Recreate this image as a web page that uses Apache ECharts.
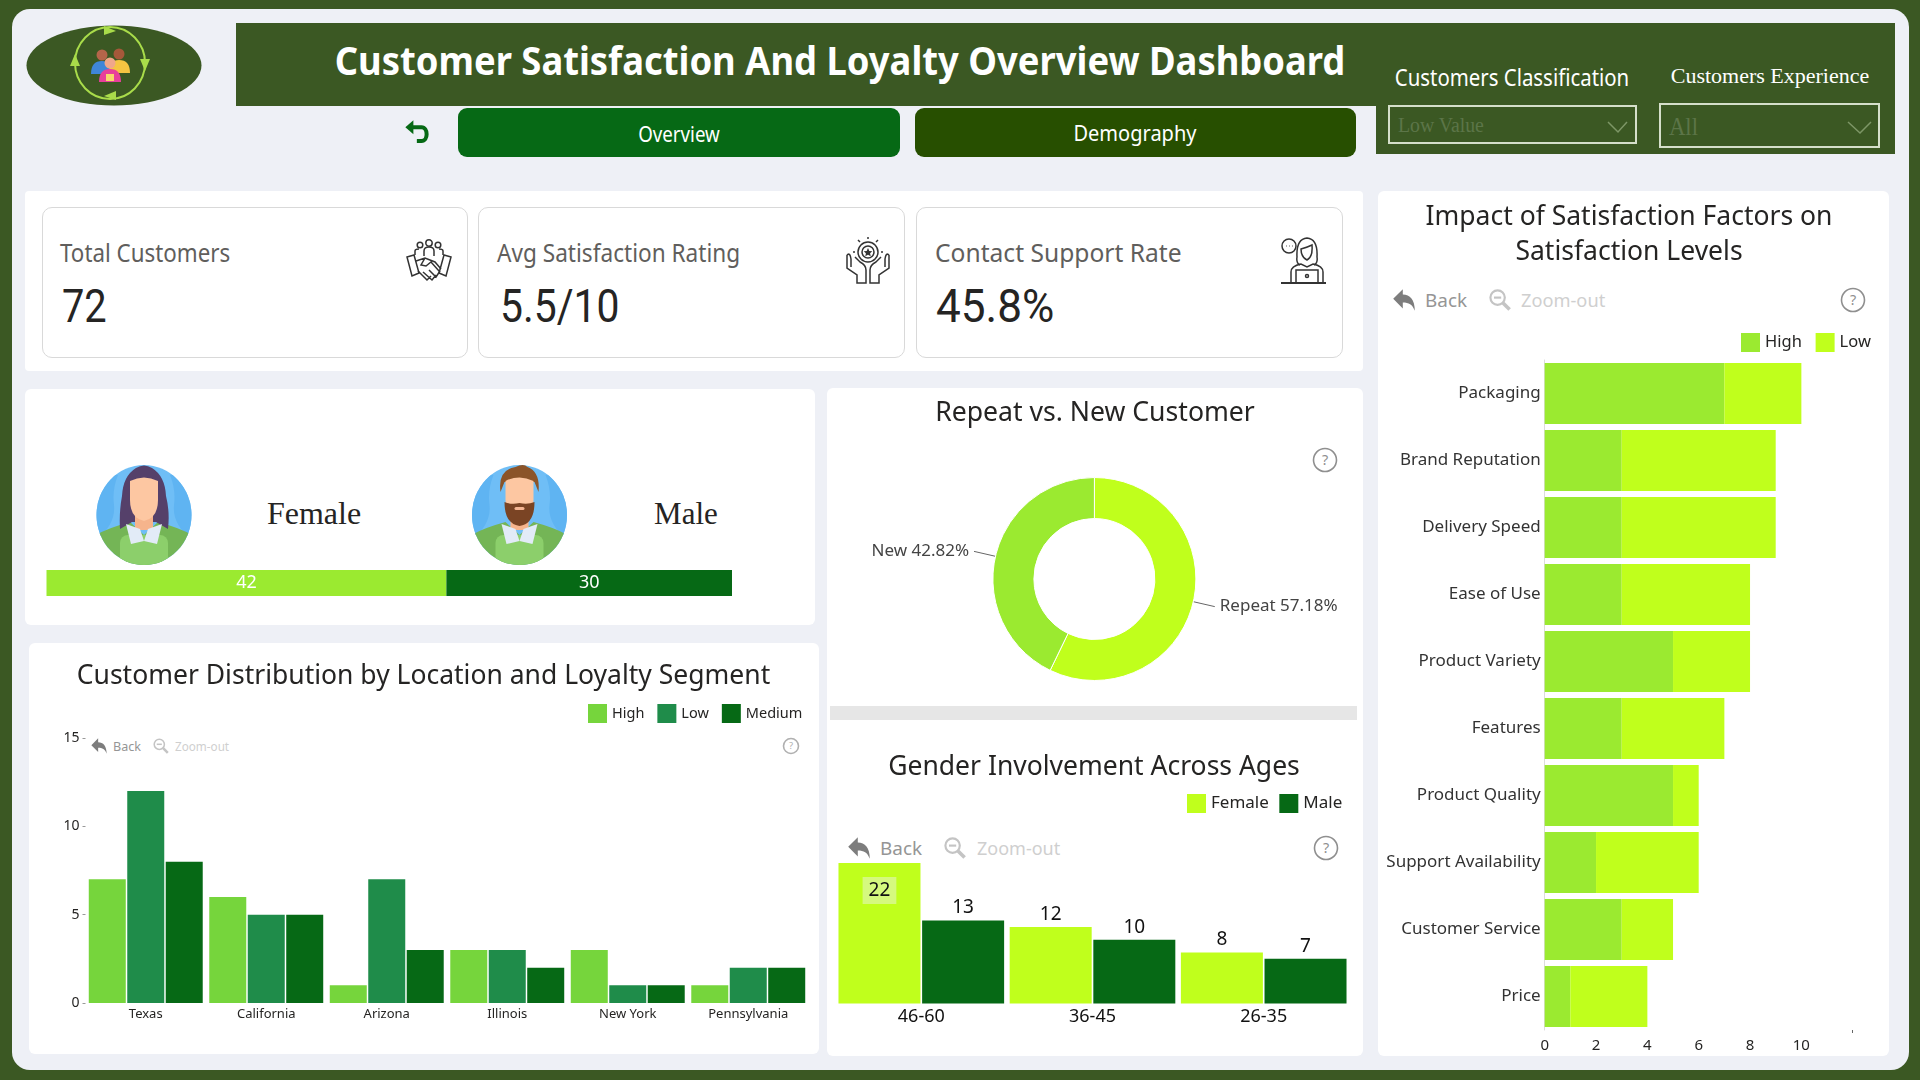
<!DOCTYPE html>
<html><head><meta charset="utf-8">
<script src="https://cdn.jsdelivr.net/npm/echarts@6/dist/echarts.min.js"></script>
<style>
html,body{margin:0;padding:0;width:1920px;height:1080px;overflow:hidden;background:#3b5823}
#chrome,#chart{position:absolute;left:0;top:0;width:1920px;height:1080px}
.b{position:absolute;box-sizing:border-box}
.t{position:absolute;white-space:nowrap;line-height:1}
svg{position:absolute;left:0;top:0;overflow:visible}
</style></head><body>
<div id="chrome"></div><div id="chart"></div>
<script>
// ---- data ----
const locations = ['Texas','California','Arizona','Illinois','New York','Pennsylvania'];
const locHigh = [7,6,1,3,3,1];
const locLow = [12,5,7,3,1,2];
const locMedium = [8,5,3,2,1,2];
const ageGroups = ['46-60','36-45','26-35'];
const ageFemale = [22,12,8];
const ageMale = [13,10,7];
const factors = ['Packaging','Brand Reputation','Delivery Speed','Ease of Use','Product Variety','Features','Product Quality','Support Availability','Customer Service','Price'];
const factorHigh = [7,3,3,3,5,3,5,2,3,1];
const factorLow = [3,6,6,5,3,4,1,4,2,3];
const loyaltyNames = ['Repeat','New'];
const loyaltyShare = [57.18,42.82];
const genderNames = ['Female','Male'];
const genderCounts = [42,30];
const kpiLabels = ['Total Customers','Avg Satisfaction Rating','Contact Support Rate'];
const kpiValues = ['72','5.5/10','45.8%'];

// ---- colours ----
const LIME='#9bea30', YEL='#c0ff1c', DK='#066915', MID='#1f8c4a', LG='#76d53c', BANNER='#3b5823', INK='#252423';
const SANS='"Noto Sans","Open Sans",sans-serif', SERIF='"Liberation Serif",serif';

// ---- page chrome ----
const root=document.getElementById('chrome');
function B(x,y,w,h,bg,extra){const d=document.createElement('div');d.className='b';
  d.style.cssText+=`left:${x}px;top:${y}px;width:${w}px;height:${h}px;background:${bg};`+(extra||'');root.appendChild(d);return d;}
function T(s,x,cy,size,color,o){o=o||{};const d=document.createElement('div');d.className='t';d.textContent=s;
  d.style.cssText+=`left:${x}px;top:${cy}px;font-size:${size}px;color:${color};font-family:${o.font||SANS};font-weight:${o.weight||400};`;
  root.appendChild(d);
  const sx=o.w?o.w/d.offsetWidth:1, c=o.align==='c';
  d.style.transformOrigin=c?'center center':'left center';
  d.style.transform=`translate(${c?'-50%':'0'},-50%) scaleX(${sx})`;return d;}
function S(html){const w=document.createElement('div');w.innerHTML=`<svg width="1920" height="1080" xmlns="http://www.w3.org/2000/svg">${html}</svg>`;root.appendChild(w.firstChild);}

B(12,9,1897,1061,'#eef0f6','border-radius:18px;');
B(236,23,1659,83,BANNER);B(1376,106,519,48,BANNER);
B(25,191,1338,180,'#fff','border-radius:4px;');
B(25,389,790,236,'#fff','border-radius:6px;');
B(29,643,790,411,'#fff','border-radius:6px;');
B(827,388,536,668,'#fff','border-radius:6px;');
B(830,706,527,14,'#e6e6e6');
B(1378,191,511,865,'#fff','border-radius:6px;');
B(458,108,442,49,DK,'border-radius:9px;');
B(915,108,441,49,'#274f00','border-radius:9px;');
B(42,207,426,151,'#fff','border:1.5px solid #d9d9d9;border-radius:10px;');
B(478,207,427,151,'#fff','border:1.5px solid #d9d9d9;border-radius:10px;');
B(916,207,427,151,'#fff','border:1.5px solid #d9d9d9;border-radius:10px;');
B(1388,105,249,39,'transparent','border:2px solid #d5dfca;');
B(1659,103,221,45,'transparent','border:2px solid #d5dfca;');

T('Customer Satisfaction And Loyalty Overview Dashboard',839.5,59,39,'#fff',{weight:700,align:'c',w:1011});
T('Overview',679,134,21,'#fff',{align:'c',w:82});
T('Demography',1135,133,21,'#fff',{align:'c',w:123});
T('Customers Classification',1512,77,23,'#fff',{align:'c',w:234});
T('Customers Experience',1770,76,22,'#fff',{align:'c',w:199,font:SERIF});
T('Low Value',1398,125,20,'#5c7548',{font:SERIF,w:86});
T('All',1669,126,25,'#5c7548',{font:SERIF,w:29});
T(kpiLabels[0],60,253,25.5,'#605e5c',{w:170});
T(kpiLabels[1],497,253,25.5,'#605e5c',{w:243});
T(kpiLabels[2],935,253,25.5,'#605e5c',{w:247});
T(kpiValues[0],62,306,46,INK,{font:'Roboto',w:45});
T(kpiValues[1],500,306,46,INK,{font:'Roboto',w:120});
T(kpiValues[2],936,306,46,INK,{font:'Roboto',w:118});
T(genderNames[0],314,513,32,'#252423',{font:SERIF,align:'c',w:94});
T(genderNames[1],686,513,32,'#252423',{font:SERIF,align:'c',w:64});

// toolbar helper: arrow, Back, magnifier, Zoom-out, help
function arrow(x,y,k,c){return `<path transform="translate(${x},${y}) scale(${k})" fill="${c}" d="M-9 -1 L-1 -9 V-4.5 C5 -4.5 9 0 9 9 C7 3.5 4 2 -1 2 V7 Z"/>`;}
function mag(x,y,k,c){return `<g transform="translate(${x},${y}) scale(${k})" fill="none" stroke="${c}" stroke-width="1.8"><circle cx="-2" cy="-2" r="6"/><path d="M-5 -2H1"/><path d="M2.5 2.5L8 8" stroke-width="3"/></g>`;}
function help(x,y,r,c){return `<circle cx="${x}" cy="${y}" r="${r}" fill="none" stroke="${c}" stroke-width="1.6"/><text x="${x}" y="${y+r*0.42}" font-size="${r*1.25}" text-anchor="middle" fill="${c}" font-family="Noto Sans">?</text>`;}
function toolbar(y,k,xs,fs,wb,wz){S(arrow(xs[0],y,k,'#7d7d7d')+mag(xs[2],y,k,'#c4c4c4'));
  T('Back',xs[1],y,fs,'#959595',{w:wb});T('Zoom-out',xs[3],y,fs,'#cfcfcf',{w:wz});}
toolbar(746,.85,[99,113,161,175],13,28,54);
toolbar(848,1.2,[859,880,955,977],18,42,83);
toolbar(300,1.2,[1404,1425,1500,1521],18,42,84);
S(help(791,746,7.5,'#b0b0b0')+help(1325,460,11.5,'#8f8f8f')+help(1326,848,11.5,'#8f8f8f')+help(1853,300,11.5,'#8f8f8f'));

// back arrow, chevrons
S(`<g transform="translate(418,133) scale(1.15)"><path fill="none" stroke="${DK}" stroke-width="3.5" d="M-6 -5 H3 C9 -5 9 7 3 7 H-1"/><path fill="${DK}" d="M-11 -5 L-4 -11 V1 Z"/></g>
<path d="M1608 122 L1618 132 L1627 122" fill="none" stroke="#7d9666" stroke-width="1.5"/>
<path d="M1848 122 L1860 133 L1871 122" fill="none" stroke="#7d9666" stroke-width="1.5"/>`);

// logo
S(`<ellipse cx="114" cy="65.5" rx="87.5" ry="40" fill="${BANNER}"/>
<ellipse cx="110" cy="63" rx="35" ry="36" fill="none" stroke="#a9dc4a" stroke-width="2"/>
<g fill="#a9dc4a"><path d="M104 26 L116 31 L104 35Z"/><path d="M116 100 L104 96 L116 91Z"/><path d="M140 60 L145 72 L150 60Z" transform="translate(0,-1)"/><path d="M70 66 L75 54 L80 66Z"/></g>
<circle cx="102" cy="55" r="5.5" fill="#b5654a"/><circle cx="119" cy="54" r="5.5" fill="#a5583a"/>
<path d="M91 74 Q91 61 102 61 Q112 61 112 74Z" fill="#3f86d8"/><path d="M109 73 Q109 60 119 60 Q130 60 130 73Z" fill="#f5c542"/>
<circle cx="110" cy="63" r="5.5" fill="#f0a78a"/><path d="M99 82 Q99 69 110 69 Q121 69 121 82Z" fill="#e83f9b"/><rect x="106" y="74" width="8" height="7" fill="#f7d76b"/>`);

// avatars
function avatar(cx,male){const clip='av'+cx;return `<defs><clipPath id="${clip}"><ellipse cx="${cx}" cy="515" rx="47.5" ry="50"/></clipPath></defs>
<g clip-path="url(#${clip})"><rect x="${cx-50}" y="460" width="100" height="110" fill="#6fbef6"/>
<path d="M${cx-48} 540 Q${cx-28} 524 ${cx-30} 505 Q${cx-32} 490 ${cx-26} 475 L${cx-48} 470Z" fill="#5fb4f2"/><path d="M${cx+48} 540 Q${cx+28} 524 ${cx+30} 505 Q${cx+32} 490 ${cx+26} 475 L${cx+48} 470Z" fill="#5fb4f2"/>
<path d="M${cx-48} 570 V535 Q${cx-36} 528 ${cx-14} 522 L${cx} 535 L${cx+14} 522 Q${cx+36} 528 ${cx+48} 535 V570Z" fill="#74b556"/>
<rect x="${cx-24}" y="535" width="48" height="36" rx="8" fill="#8ccf6b"/></g>`+
(male?`<path d="M${cx-19} 492 Q${cx-22} 470 ${cx-4} 467 Q${cx+4} 463 ${cx+8} 467 Q${cx+21} 472 ${cx+19} 492 L${cx+15} 482 L${cx-15} 482Z" fill="#8b5429"/>`
:`<path d="M${cx-8} 468 Q${cx} 463 ${cx+8} 468 Q${cx+21} 476 ${cx+22} 496 Q${cx+26} 512 ${cx+24} 529 L${cx+12} 522 L${cx-12} 522 L${cx-24} 529 Q${cx-25} 512 ${cx-22} 496 Q${cx-21} 476 ${cx-8} 468Z" fill="#55406a"/>`)+
`<rect x="${cx-9}" y="512" width="18" height="18" fill="#f6b48c"/>
<path d="M${cx-14} 481 Q${cx} 474 ${cx+14} 481 V500 Q${cx+14} 518 ${cx} 521 Q${cx-14} 518 ${cx-14} 500Z" fill="#fdc7a2"/>`+
(male?`<path d="M${cx-15} 502 Q${cx-8} 505 ${cx} 503 Q${cx+8} 505 ${cx+15} 502 Q${cx+15} 524 ${cx} 526 Q${cx-15} 524 ${cx-15} 502Z" fill="#7a4424"/><rect x="${cx-5}" y="507" width="10" height="3" rx="1.5" fill="#f4b592"/>`:'')+
`<path d="M${cx-18} 524 L${cx-4} 529 L${cx} 541 L${cx-13} 544Z" fill="#e2ebf7"/><path d="M${cx+18} 524 L${cx+4} 529 L${cx} 541 L${cx+13} 544Z" fill="#e2ebf7"/>`;}
S(avatar(144,false)+avatar(519.5,true));

// KPI line icons
S(`<g fill="none" stroke="#333" stroke-width="1.5" transform="translate(429,261)">
<circle cx="0" cy="-18" r="3.2"/><circle cx="-9" cy="-16" r="2.8"/><circle cx="9" cy="-16" r="2.8"/><path d="M-14 -6 V-10 Q-14 -12 -10 -12 M-5 -5 V-10 Q-5 -14 0 -14 Q5 -14 5 -10 V-5 M14 -6 V-10 Q14 -12 10 -12"/>
<path d="M-22 -4 L-15 -6 L-10 12 L-17 15Z M22 -4 L15 -6 L10 12 L17 15Z"/><path d="M-13 0 L-4 -3 L6 1 L12 8 M-4 -3 L-8 4 L-3 5 L2 1 L10 10 M-11 10 L-2 19 L2 15 M-6 11 L3 19 L7 14 M0 9 L7 16 L11 10"/></g>
<g fill="none" stroke="#333" stroke-width="1.5" transform="translate(868,261)">
<circle cx="0" cy="-9" r="10"/><circle cx="0" cy="-9" r="6"/><path d="M0 -13 l1.3 3 3 .3-2.2 2 .6 3-2.7-1.5-2.7 1.5 .6-3-2.2-2 3-.3Z" fill="#333" stroke="none"/>
<path d="M0 -22 v-2 M8 -19 l2 -2 M-8 -19 l-2 -2 M13 -9 h2 M-13 -9 h-2"/>
<path d="M-21 -6 V7 L-11 14 V22 H-2 V9 Q-2 4 -8 1 L-13 -4 M21 -6 V7 L11 14 V22 H2 V9 Q2 4 8 1 L13 -4 M-21 -6 Q-18 -9 -17 -2 V6 M21 -6 Q18 -9 17 -2 V6"/></g>
<g fill="none" stroke="#333" stroke-width="1.5" transform="translate(1304,261)">
<circle cx="-15" cy="-15" r="7"/><path d="M-18 -15h.5M-15 -15h.5M-12 -15h.5"/>
<path d="M-7 -4 Q-8 -22 3 -23 Q14 -22 13 -4 Q14 2 10 4 M-7 -4 Q-8 2 -4 4"/><path d="M-3 -12 Q4 -14 8 -16 Q9 -4 3 -1 Q-3 -4 -3 -12Z"/><path d="M-13 21 V11 Q-13 5 -3 3 L3 6 L9 3 Q19 5 19 11 V21"/>
<rect x="-8" y="9" width="22" height="13"/><circle cx="3" cy="15" r="1.5"/><path d="M-23 22 H22" stroke-width="2"/></g>`);

// ---- charts ----
const chart=echarts.init(document.getElementById('chart'),null,{renderer:'canvas',width:1920,height:1080});
const titleBase=(text,x,y,size,lh)=>({text,left:x,top:y,textAlign:'center',textVerticalAlign:'middle',padding:0,
  textStyle:{fontFamily:SANS,fontWeight:400,fontSize:size,color:INK,lineHeight:lh||size}});
const legendBase=(left,top,gap,items,fs)=>({left,top,orient:'horizontal',padding:0,itemGap:gap,itemWidth:19,itemHeight:19,icon:'rect',
  textStyle:{fontFamily:SANS,fontSize:fs,color:INK,padding:[0,0,0,0]},data:items.map(([name,color])=>({name,icon:'rect',itemStyle:{color,borderWidth:0}}))});
const lab=(fs,c)=>({fontFamily:SANS,fontSize:fs,color:c||INK});
chart.setOption({
 animation:false,backgroundColor:'transparent',tooltip:{show:false},
 title:[
  titleBase('Customer Distribution by Location and Loyalty Segment',423.5,676,26.5),
  titleBase('Repeat vs. New Customer',1095,413,26.6),
  titleBase('Gender Involvement Across Ages',1094,767,26.5),
  titleBase('Impact of Satisfaction Factors on\nSatisfaction Levels',1629,235,26.5,35)
 ],
 legend:[
  legendBase(588,704,13,[['High',LG],['Low',MID],['Medium',DK]],14.5),
  legendBase(1187,794,10.5,[['Female',YEL],['Male',DK]],17),
  legendBase(1741,333,9.5,[['High ',LIME],['Low ',YEL]],16.5)
 ],
 grid:[
  {left:85.5,top:738,width:723,height:265},
  {left:835.7,top:863,width:513.6,height:140.6},
  {left:1544.7,top:360,width:308,height:670},
  {left:46.5,top:570,width:685.5,height:26}
 ],
 xAxis:[
  {gridIndex:0,type:'category',data:locations,axisLine:{show:false},axisTick:{show:false},axisLabel:{...lab(13),margin:5}},
  {gridIndex:1,type:'category',data:ageGroups,axisLine:{show:false},axisTick:{show:false},axisLabel:{...lab(18,'#111'),margin:4}},
  {gridIndex:2,type:'value',min:0,max:12,interval:2,splitLine:{show:false},axisLine:{show:false},
   axisTick:{show:true,length:3,customValues:[12],lineStyle:{color:'#666'}},axisLabel:{...lab(15),margin:8,formatter:v=>v<=10?v:''}},
  {gridIndex:3,type:'value',min:0,max:72,show:false}
 ],
 yAxis:[
  {gridIndex:0,type:'value',min:0,max:15,interval:5,splitLine:{show:false},axisLine:{show:false},
   axisTick:{show:true,length:3,lineStyle:{color:'#999'}},axisLabel:{...lab(14),margin:6}},
  {gridIndex:1,type:'value',min:0,max:22,show:false},
  {gridIndex:2,type:'category',inverse:true,data:factors,axisLine:{show:true,lineStyle:{color:'#dcdcdc'}},axisTick:{show:false},axisLabel:{...lab(17,'#333'),margin:4}},
  {gridIndex:3,type:'category',data:['Gender'],show:false}
 ],
 series:[
  {name:'High',type:'bar',xAxisIndex:0,yAxisIndex:0,data:locHigh,barWidth:37,barGap:'4%',itemStyle:{color:LG}},
  {name:'Low',type:'bar',xAxisIndex:0,yAxisIndex:0,data:locLow,barWidth:37,barGap:'4%',itemStyle:{color:MID}},
  {name:'Medium',type:'bar',xAxisIndex:0,yAxisIndex:0,data:locMedium,barWidth:37,barGap:'4%',itemStyle:{color:DK}},
  {name:'Female',type:'bar',xAxisIndex:1,yAxisIndex:1,barWidth:82,barGap:'2%',itemStyle:{color:YEL},
   label:{show:true,position:'top',distance:3,...lab(19,'#111')},
   data:ageFemale.map((v,i)=>i===0?{value:v,label:{position:'insideTop',distance:14,backgroundColor:'#d5f97e',padding:[4,6,4,6]}}:v)},
  {name:'Male',type:'bar',xAxisIndex:1,yAxisIndex:1,barWidth:82,barGap:'2%',itemStyle:{color:DK},data:ageMale,
   label:{show:true,position:'top',distance:3,...lab(19,'#111')}},
  {name:'High ',type:'bar',stack:'f',xAxisIndex:2,yAxisIndex:2,data:factorHigh,barWidth:60.8,itemStyle:{color:LIME}},
  {name:'Low ',type:'bar',stack:'f',xAxisIndex:2,yAxisIndex:2,data:factorLow,barWidth:60.8,itemStyle:{color:YEL}},
  {name:genderNames[0]+' total',type:'bar',stack:'g',xAxisIndex:3,yAxisIndex:3,data:[genderCounts[0]],barWidth:26,itemStyle:{color:LIME},
   label:{show:true,position:'inside',...lab(18,'#fff')}},
  {name:genderNames[1]+' total',type:'bar',stack:'g',xAxisIndex:3,yAxisIndex:3,data:[genderCounts[1]],barWidth:26,itemStyle:{color:DK},
   label:{show:true,position:'inside',...lab(18,'#fff')}},
  {name:'Loyalty',type:'pie',center:[1094.4,579],radius:[60.5,101.5],startAngle:90,clockwise:true,silent:true,
   data:loyaltyNames.map((n,i)=>({name:n,value:loyaltyShare[i],itemStyle:{color:i===0?YEL:LIME,borderColor:'#fff',borderWidth:1}})),
   label:{show:true,position:'outside',formatter:p=>p.name+' '+p.value.toFixed(2)+'%',...lab(17,'#444')},
   labelLine:{show:true,length:22,length2:0,smooth:false,lineStyle:{color:'#666',width:1}}}
 ]
});
</script></body></html>
